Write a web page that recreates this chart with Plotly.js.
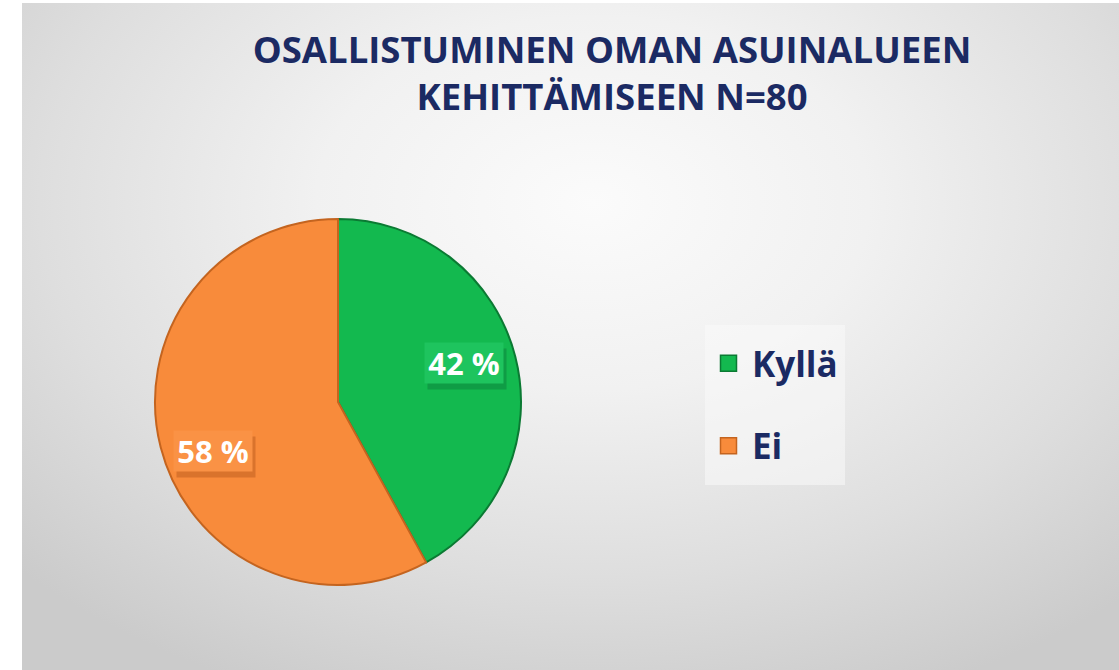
<!DOCTYPE html>
<html>
<head>
<meta charset="utf-8">
<script src="https://cdn.plot.ly/plotly-3.0.1.min.js"></script>
<style>
html,body{margin:0;padding:0;background:#ffffff;}
#wrap{position:relative;width:1119px;height:670px;background:#ffffff;overflow:hidden;}
#bg{position:absolute;left:22px;top:3px;right:0;bottom:0;
 background:radial-gradient(ellipse 72% 80% at 52% 30%, #fbfbfb 0%, #f1f1f1 35%, #dedede 70%, #cbcbcb 100%);}
#chart{position:absolute;left:0;top:0;width:1119px;height:670px;}
</style>
</head>
<body>
<div id="wrap"><div id="bg"></div><div id="chart"></div></div>
<script>
// ---- data ----
const categories = ["Kyllä", "Ei"];
const percents = [42, 58];
const sliceColors = ["#13b94f", "#f88b3b"];
const sliceLines = ["#0b7a33", "#c4641f"];
const labelBoxColors = ["#1ec45e", "#fa9245"];
const labelShadowColors = ["#0f9c45", "#d9732c"];
const titleText = "OSALLISTUMINEN OMAN ASUINALUEEN<br>KEHITTÄMISEEN N=80";

// ---- layout settings ----
const W = 1119, H = 670;
const navy = "#1b2a63";
const fontFam = "'Open Sans', Lato, sans-serif";
const labelPos = [[464, 363], [213, 451]];  // label box centres in px

const traces = [{
  type: "pie",
  labels: categories,
  values: percents,
  sort: false,
  direction: "clockwise",
  rotation: 0,
  textinfo: "none",
  hoverinfo: "label+percent",
  showlegend: false,
  marker: {colors: sliceColors, line: {color: sliceLines, width: 2}},
  domain: {x: [155 / W, 521 / W], y: [1 - 585 / H, 1 - 219 / H]}
}];

categories.forEach((c, i) => {
  traces.push({
    type: "scatter", mode: "markers",
    x: [null], y: [null],
    name: c, legendgroup: "g" + i,
    marker: {symbol: "square", size: 22, color: sliceColors[i], line: {color: sliceLines[i], width: 1.5}},
    hoverinfo: "skip"
  });
});

const annotations = [];
percents.forEach((v, i) => {
  const base = {
    xref: "paper", yref: "paper",
    x: labelPos[i][0] / W, y: 1 - labelPos[i][1] / H,
    xanchor: "center", yanchor: "middle",
    showarrow: false,
    width: 78, height: 40,
    borderpad: 0
  };
  annotations.push(Object.assign({}, base, {
    text: "\u00a0",
    xshift: 3, yshift: -6,
    font: {family: fontFam, size: 31, color: labelShadowColors[i], weight: 700},
    bgcolor: labelShadowColors[i]
  }));
  annotations.push(Object.assign({}, base, {
    text: v + " %",
    font: {family: fontFam, size: 31, color: "#ffffff", weight: 700},
    bgcolor: labelBoxColors[i]
  }));
});

const layout = {
  width: W, height: H,
  margin: {l: 0, r: 0, t: 0, b: 0},
  paper_bgcolor: "rgba(0,0,0,0)",
  plot_bgcolor: "rgba(0,0,0,0)",
  title: {
    text: titleText,
    x: 612 / W, xanchor: "center",
    y: 1 - 63 / H, yanchor: "top", yref: "container",
    font: {family: fontFam, size: 36.5, color: navy, weight: 700}
  },
  xaxis: {visible: false, domain: [0.9, 0.95]},
  yaxis: {visible: false, domain: [0.9, 0.95]},
  showlegend: true,
  legend: {
    x: 705 / W, y: 1 - 334 / H, xanchor: "left", yanchor: "top",
    bgcolor: "rgba(0,0,0,0)",
    font: {family: fontFam, size: 35, color: navy, weight: 700},
    traceorder: "grouped",
    tracegroupgap: 34,
    itemwidth: 37,
    itemclick: false, itemdoubleclick: false
  },
  shapes: [{
    type: "rect", xref: "paper", yref: "paper", layer: "below",
    x0: 705 / W, x1: 845 / W, y0: 1 - 485 / H, y1: 1 - 325 / H,
    fillcolor: "rgba(250,250,250,0.55)", line: {width: 0}
  }],
  annotations: annotations
};

Plotly.newPlot("chart", traces, layout, {displayModeBar: false, staticPlot: true});
</script>
</body>
</html>
